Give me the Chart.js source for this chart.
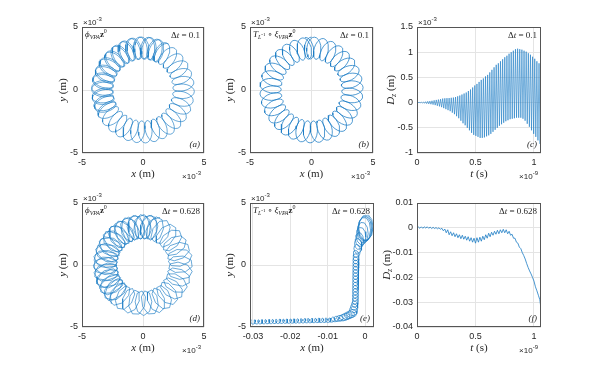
<!DOCTYPE html>
<html><head><meta charset="utf-8">
<script src="https://cdn.jsdelivr.net/npm/chart.js@4.4.1/dist/chart.umd.min.js"></script>
<style>
html,body{margin:0;padding:0;background:#fff;}
#wrap{position:relative;width:598px;height:367px;overflow:hidden;background:#fff;}
#wrap canvas{position:absolute;}
</style></head><body><div id="wrap"></div>
<script>
// ---------------- DATA ----------------
// Ring panels (a), (b), (d): gyrating orbit around a circle, units of 1e-3 m
const ringCenterRadius   = [3.33, 3.33, 3.08];   // guiding-centre radius
const ringRadialHalf     = [0.88, 0.87, 1.00];   // loop half-extent, radial
const ringTangentialHalf = [0.42, 0.42, 0.55];   // loop half-extent, tangential
const ringLoopCount      = [48, 35, 52];         // gyrations drawn
const ringTurns          = [1.42, 1.02, 1.45];   // guiding-centre turns
const ringStartDeg       = [60, 90, 70];         // start angle of guiding centre
const ringSamplesPerLoop = [20, 20, 7.6];        // samples per gyration (Δt = 0.1 vs 0.628)
const ringTicks = [-5, 0, 5];
const ringTickLabels = ['-5', '0', '5'];

// Panel (c): D_z for Δt = 0.1, one maximum and one minimum per gyration (1e-3 m), t in 1e-9 s
const cGyroPeriod = 0.0183;
const cUpper = [0,0.004,0.008,0.012,0.018,0.025,0.03,0.036,0.045,0.053,
  0.06,0.068,0.08,0.085,0.088,0.09,0.095,0.1,0.11,0.125,
  0.14,0.16,0.18,0.2,0.23,0.26,0.3,0.34,0.37,0.41,
  0.45,0.48,0.52,0.55,0.6,0.65,0.7,0.75,0.78,0.82,
  0.86,0.9,0.93,0.97,1.0,1.03,1.06,1.07,1.06,1.05,
  1.03,1.01,0.98,0.95,0.91,0.87,0.82,0.78,0.74];
const cLower = [0,-0.004,-0.008,-0.014,-0.02,-0.026,-0.032,-0.04,-0.05,-0.063,
  -0.075,-0.09,-0.11,-0.13,-0.15,-0.17,-0.2,-0.23,-0.27,-0.31,
  -0.36,-0.41,-0.45,-0.5,-0.55,-0.6,-0.64,-0.66,-0.68,-0.7,
  -0.7,-0.69,-0.67,-0.65,-0.62,-0.58,-0.54,-0.5,-0.46,-0.43,
  -0.4,-0.37,-0.35,-0.33,-0.32,-0.31,-0.3,-0.3,-0.3,-0.32,
  -0.36,-0.42,-0.48,-0.55,-0.62,-0.68,-0.75,-0.82,-0.88];
const cXTicks = [0, 0.5, 1], cXTickLabels = ['0', '0.5', '1'];
const cYTicks = [-1, -0.5, 0, 0.5, 1, 1.5], cYTickLabels = ['-1', '-0.5', '0', '0.5', '1', '1.5'];

// Panel (e): drifting orbit for Δt = 0.628, key gyrations (x in m, y in 1e-3 m)
const eKeyLoop = [0, 3, 6, 9, 24, 28, 32, 36, 58];
const eKeyX    = [0.0003, -0.0002, -0.0015, -0.0024, -0.0026, -0.0033, -0.0058, -0.0095, -0.0305];
const eKeyY    = [3.05, 2.85, 2.0, 0.8, -3.0, -3.9, -4.25, -4.45, -4.6];
const eKeyRx   = [0.0019, 0.0018, 0.0012, 0.0008, 0.0008, 0.0012, 0.0013, 0.0005, 0.0004];
const eKeyRy   = [1.05, 1.0, 0.6, 0.35, 0.3, 0.3, 0.25, 0.18, 0.17];
const eSamplesPerLoop = 10;
const eXTicks = [-0.03, -0.02, -0.01, 0], eXTickLabels = ['-0.03', '-0.02', '-0.01', '0'];

// Panel (f): D_z for Δt = 0.628, in 1e-3 m, sampled every fStep (1e-9 s)
const fStep = 0.0125;
const fDzMm = [0,0.3,-0.2,0.4,-0.2,0.4,-0.1,0.4,-0.2,0.3,
  -0.3,0.2,-0.3,0.1,-0.4,0.0,-0.6,-0.2,-1.2,-0.5,
  -2.0,-0.8,-2.8,-1.6,-3.2,-2.0,-3.6,-2.4,-4.0,-2.8,
  -4.4,-3.0,-4.6,-3.4,-5.0,-3.6,-5.4,-4.0,-5.8,-4.2,
  -6.2,-4.0,-5.8,-3.8,-5.4,-3.4,-4.8,-2.8,-4.2,-2.2,
  -3.6,-1.8,-3.0,-1.4,-2.6,-1.0,-2.4,-0.8,-2.0,-0.6,
  -2.0,-0.8,-2.4,-1.4,-3.0,-2.6,-4.2,-4.2,-5.8,-6.2,
  -7.8,-8.4,-10.0,-11.2,-12.6,-14.4,-16.0,-17.4,-18.6,-20.0,
  -21.5,-23.8,-25.4,-27.2,-29.0,-33.5];
const fYTicks = [-0.04, -0.03, -0.02, -0.01, 0, 0.01];
const fYTickLabels = ['-0.04', '-0.03', '-0.02', '-0.01', '0', '0.01'];

// ---------------- BUILD SERIES ----------------
function ringSeries(i) {
  const pts = [];
  const spl = ringSamplesPerLoop[i], n = ringLoopCount[i];
  const total = Math.round(n * spl);
  const th0 = ringStartDeg[i] * Math.PI / 180;
  for (let k = 0; k <= total; k++) {
    const u = k / spl;
    const ph = 2 * Math.PI * u;
    const th = th0 + ringTurns[i] * 2 * Math.PI * u / n;
    const r = ringCenterRadius[i] + ringRadialHalf[i] * Math.cos(ph);
    const tg = ringTangentialHalf[i] * Math.sin(ph);
    pts.push({x: r * Math.cos(th) - tg * Math.sin(th), y: r * Math.sin(th) + tg * Math.cos(th)});
  }
  return pts;
}
function cSeries() {
  const pts = [];
  for (let k = 0; k < cUpper.length; k++) {
    pts.push({x: k * cGyroPeriod, y: cUpper[k]});
    pts.push({x: (k + 0.5) * cGyroPeriod, y: cLower[k]});
  }
  return pts;
}
function keyAt(arr, u) {
  for (let j = 0; j < eKeyLoop.length - 1; j++) {
    if (u <= eKeyLoop[j + 1]) {
      const f = (u - eKeyLoop[j]) / (eKeyLoop[j + 1] - eKeyLoop[j]);
      return arr[j] + f * (arr[j + 1] - arr[j]);
    }
  }
  return arr[arr.length - 1];
}
function eSeries() {
  const pts = [];
  const last = eKeyLoop[eKeyLoop.length - 1];
  for (let k = 0; k <= last * eSamplesPerLoop; k++) {
    const u = k / eSamplesPerLoop, ph = 2 * Math.PI * u + 0.3;
    pts.push({x: keyAt(eKeyX, u) + keyAt(eKeyRx, u) * Math.sin(ph),
              y: keyAt(eKeyY, u) + keyAt(eKeyRy, u) * Math.cos(ph)});
  }
  return pts;
}
function fSeries() { return fDzMm.map((v, i) => ({x: i * fStep, y: v / 1000})); }

// ---------------- DRAWING ----------------
const SERIF = '"Liberation Serif","DejaVu Serif",serif';
const SANS = '"Liberation Sans",Arial,sans-serif';
const TXT = '#262626';
const BLUE = '#1a7bc4';
const PADL = 55, PADT = 25, PADR = 12, PADB = 35;
const wrap = document.getElementById('wrap');

function P(t, st, size, dy) { return {t, st: st || 'n', size: size || 9, dy: dy || 0}; }
function fontOf(p) {
  const fam = p.fam || SERIF;
  return (p.st === 'i' ? 'italic ' : p.st === 'b' ? 'bold ' : '') + p.size + 'px ' + fam;
}
function drawRich(ctx, parts, x, y, align, fam) {
  let w = 0;
  parts.forEach(p => { if (fam) p.fam = fam; ctx.font = fontOf(p); p.w = ctx.measureText(p.t).width; w += p.w; });
  let sx = align === 'right' ? x - w : align === 'center' ? x - w / 2 : x;
  ctx.textBaseline = 'alphabetic'; ctx.textAlign = 'left'; ctx.fillStyle = TXT;
  parts.forEach(p => { ctx.font = fontOf(p); ctx.fillText(p.t, sx, y + p.dy); sx += p.w; });
}
function expParts(e) { return [P('\u00d710', 'n', 8), P(e, 'n', 6, -4)]; }

function decoPlugin(d) {
  return {
    id: 'deco',
    afterDraw(chart) {
      const ctx = chart.ctx, ca = chart.chartArea;
      const L = ca.left, R = ca.right, T = ca.top, B = ca.bottom;
      ctx.save();
      ctx.strokeStyle = '#555'; ctx.lineWidth = 1;
      ctx.strokeRect(L + 0.5, T + 0.5, R - L - 1, B - T - 1);
      drawRich(ctx, d.xTitle, (L + R) / 2, B + 24, 'center');
      ctx.save(); ctx.translate(L - d.yTitleDx, (T + B) / 2); ctx.rotate(-Math.PI / 2);
      drawRich(ctx, d.yTitle, 0, 4, 'center'); ctx.restore();
      if (d.topExp) drawRich(ctx, expParts(d.topExp), L + 1, T - 2, 'left', SANS);
      if (d.botExp) drawRich(ctx, expParts(d.botExp), R - 3, B + 26, 'right', SANS);
      if (d.label) drawRich(ctx, d.label, L + 3, T + 10, 'left');
      drawRich(ctx, d.dt, R - 4, T + 11, 'right');
      drawRich(ctx, [P(d.tag, 'i', 9)], R - 4, B - 6, 'right');
      ctx.restore();
    }
  };
}
function axis(cfg, dir) {
  return {
    type: 'linear', min: cfg.min, max: cfg.max,
    afterBuildTicks: s => { s.ticks = cfg.ticks.map(v => ({value: v})); },
    afterFit: s => { if (dir === 'x') s.height = PADB; else s.width = PADL; },
    ticks: {autoSkip: false, maxRotation: 0, minRotation: 0, padding: 4, color: TXT,
            font: {family: SANS, size: 9}, callback: (v, i) => cfg.labels[i]},
    grid: {color: '#e4e4e4', lineWidth: 1, drawTicks: false},
    border: {display: false}
  };
}
function makePanel(box, points, xCfg, yCfg, deco, lw) {
  const [L, T, R, B] = box;
  const cv = document.createElement('canvas');
  const W = (R - L) + PADL + PADR, H = (B - T) + PADT + PADB;
  cv.width = W; cv.height = H;
  cv.style.left = (L - PADL) + 'px'; cv.style.top = (T - PADT) + 'px';
  cv.style.width = W + 'px'; cv.style.height = H + 'px';
  wrap.appendChild(cv);
  new Chart(cv, {
    type: 'scatter',
    data: {datasets: [{data: points, showLine: true, borderColor: BLUE, borderWidth: lw,
                       pointRadius: 0, fill: false, tension: 0}]},
    options: {
      responsive: false, animation: false, devicePixelRatio: 1,
      layout: {padding: {left: 0, top: PADT, right: PADR, bottom: 0}},
      plugins: {legend: {display: false}, tooltip: {enabled: false}},
      scales: {x: axis(xCfg, 'x'), y: axis(yCfg, 'y')}
    },
    plugins: [decoPlugin(deco)]
  });
}

const ringAxis = {min: -5, max: 5, ticks: ringTicks, labels: ringTickLabels};
const xT = () => [P('x', 'i', 11), P(' (m)', 'n', 11)];
const yT = () => [P('y', 'i', 11), P(' (m)', 'n', 11)];
const dzT = () => [P('D', 'i', 11), P('z', 'i', 8, 2), P(' (m)', 'n', 11)];
const tT = () => [P('t', 'i', 11), P(' (s)', 'n', 11)];
const dtT = v => [P('\u0394', 'n', 9), P('t', 'i', 9), P(' = ' + v, 'n', 9)];
const phiL = () => [P('\u03d5', 'i', 9), P('VPA', 'i', 6, 2), P('z', 'b', 9), P('0', 'n', 6, -4)];
const tauL = () => [P('T', 'i', 9), P('L', 'i', 6, 2), P('-1', 'n', 5, -1), P(' \u2218 ', 'n', 9),
                    P('\u03be', 'i', 9), P('VPA', 'i', 6, 2), P('z', 'b', 9), P('0', 'n', 6, -4)];

makePanel([82, 27, 204, 153], ringSeries(0), ringAxis, ringAxis,
  {xTitle: xT(), yTitle: yT(), yTitleDx: 20, topExp: '-3', botExp: '-3', label: phiL(), dt: dtT('0.1'), tag: '(a)'}, 0.65);
makePanel([250, 27, 373, 153], ringSeries(1), ringAxis, ringAxis,
  {xTitle: xT(), yTitle: yT(), yTitleDx: 21, topExp: '-3', botExp: '-3', label: tauL(), dt: dtT('0.1'), tag: '(b)'}, 0.75);
makePanel([417, 27, 541, 153], cSeries(),
  {min: 0, max: 1.06, ticks: cXTicks, labels: cXTickLabels},
  {min: -1, max: 1.5, ticks: cYTicks, labels: cYTickLabels},
  {xTitle: tT(), yTitle: dzT(), yTitleDx: 27, topExp: '-3', botExp: '-9', label: null, dt: dtT('0.1'), tag: '(c)'}, 0.6);
makePanel([82, 203, 204, 327], ringSeries(2), ringAxis, ringAxis,
  {xTitle: xT(), yTitle: yT(), yTitleDx: 20, topExp: '-3', botExp: '-3', label: phiL(), dt: dtT('0.628'), tag: '(d)'}, 0.65);
makePanel([250, 203, 374, 327], eSeries(),
  {min: -0.0308, max: 0.0024, ticks: eXTicks, labels: eXTickLabels}, ringAxis,
  {xTitle: xT(), yTitle: yT(), yTitleDx: 21, topExp: '-3', botExp: null, label: tauL(), dt: dtT('0.628'), tag: '(e)'}, 0.7);
makePanel([417, 203, 541, 327], fSeries(),
  {min: 0, max: 1.06, ticks: cXTicks, labels: cXTickLabels},
  {min: -0.04, max: 0.01, ticks: fYTicks, labels: fYTickLabels},
  {xTitle: tT(), yTitle: dzT(), yTitleDx: 31, topExp: null, botExp: '-9', label: null, dt: dtT('0.628'), tag: '(f)'}, 0.8);
</script></body></html>
